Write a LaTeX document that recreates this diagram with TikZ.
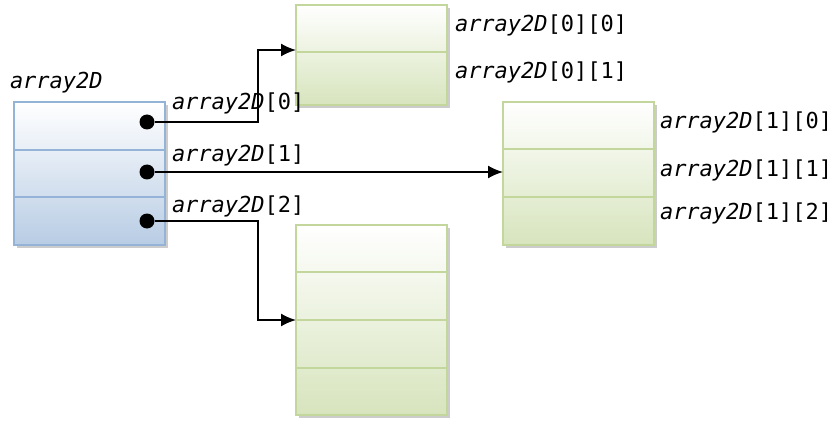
\documentclass[tikz,border=0pt]{standalone}
\usepackage{fontspec}
\setmonofont{DejaVu Sans Mono}
\usetikzlibrary{arrows.meta,shadows}

\definecolor{blueedge}{RGB}{149,179,215}
\definecolor{bluefill}{RGB}{184,204,228}
\definecolor{greenedge}{RGB}{195,214,155}
\definecolor{greenfill}{RGB}{215,228,189}

\newcommand{\arr}[1]{\textit{array2D}#1}

\begin{document}
\begin{tikzpicture}[x=1pt, y=-1pt]
\tikzset{ >={Latex[length=15pt,width=13pt]}, inner sep=0pt, outer sep=0pt,
  box/.style={anchor=north west, minimum width=151pt,
    drop shadow={shadow xshift=3pt, shadow yshift=-3pt, fill=black!40}},
  bluebox/.style={box, top color=white, bottom color=bluefill},
  greenbox/.style={box, top color=white, bottom color=greenfill},
  bluecell/.style={anchor=north west, minimum width=151pt, draw=blueedge, line width=1.8pt},
  greencell/.style={anchor=north west, minimum width=151pt, draw=greenedge, line width=1.8pt},
  dot/.style={fill=black, circle, minimum size=15pt},
  ptr/.style={->, line width=1.8pt},
  lbl/.style={anchor=base west, font=\ttfamily\fontsize{22}{26}\selectfont},
}
\useasboundingbox (0,0) rectangle (837,422);

% array2D
\node [bluebox, minimum height=143pt] (A) at (14,102) {};
\node [bluecell, minimum height=48pt] (A0) at (14,102) {};
\node [bluecell, minimum height=47pt] (A1) at (14,150) {};
\node [bluecell, minimum height=48pt] (A2) at (14,197) {};

% array2D[0]
\node [greenbox, minimum height=100pt] (B0) at (296,5) {};
\node [greencell, minimum height=47pt] (B00) at (296,5) {};
\node [greencell, minimum height=53pt] (B01) at (296,52) {};

% array2D[1]
\node [greenbox, minimum height=143pt] (B1) at (503,102) {};
\node [greencell, minimum height=47pt] (B10) at (503,102) {};
\node [greencell, minimum height=48pt] (B11) at (503,149) {};
\node [greencell, minimum height=48pt] (B12) at (503,197) {};

% array2D[2]
\node [greenbox, minimum height=190pt] (B2) at (296,225) {};
\node [greencell, minimum height=47pt] (B20) at (296,225) {};
\node [greencell, minimum height=48pt] (B21) at (296,272) {};
\node [greencell, minimum height=48pt] (B22) at (296,320) {};
\node [greencell, minimum height=47pt] (B23) at (296,368) {};

% pointers
\node [dot] (d0) at (147,122) {};
\node [dot] (d1) at (147,172) {};
\node [dot] (d2) at (147,221) {};

\coordinate (k0) at (258,50);
\coordinate (k2) at (258,320);
\coordinate (e0) at (B00.south west);

\draw [ptr] (d0) -| (k0) -- (e0 |- k0);
\draw [ptr] (d1) -- (B11.west |- d1);
\draw [ptr] (d2) -| (k2) -- (B22.north west);

\node [lbl] (t)   at (10,89)   {\arr{}};
\node [lbl] (t0)  at (172,110) {\arr{[0]}};
\node [lbl] (t1)  at (172,162) {\arr{[1]}};
\node [lbl] (t2)  at (172,212) {\arr{[2]}};

\node [lbl] (t00) at (455,32)  {\arr{[0][0]}};
\node [lbl] (t01) at (455,79)  {\arr{[0][1]}};
\node [lbl] (t10) at (660,129) {\arr{[1][0]}};
\node [lbl] (t11) at (660,176) {\arr{[1][1]}};
\node [lbl] (t12) at (660,219) {\arr{[1][2]}};

\end{tikzpicture}
\end{document}
